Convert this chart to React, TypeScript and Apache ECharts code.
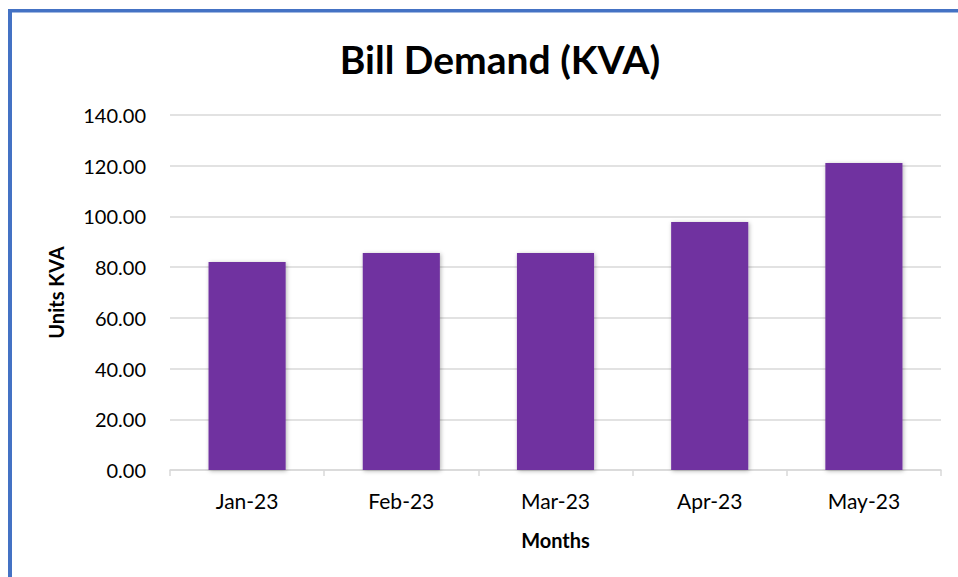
import React, { useEffect, useRef } from "react";
import * as echarts from "echarts";

const categories = ["Jan-23", "Feb-23", "Mar-23", "Apr-23", "May-23"];
const demandValues = [82.0, 85.6, 85.6, 97.8, 121.1];
const titleText = "Bill Demand (KVA)";
const yAxisName = "Units KVA";
const xAxisName = "Months";

export default function App() {
  const ref = useRef<HTMLDivElement>(null);
  useEffect(() => {
    if (!ref.current) return;
    const chart = echarts.init(ref.current, null, { renderer: "svg" });
    const font = "Lato, 'Open Sans', sans-serif";
    chart.setOption({
      animation: false,
      backgroundColor: "#ffffff",
      title: {
        text: titleText,
        left: 495,
        top: 34,
        textAlign: "center",
        textStyle: { fontFamily: font, fontSize: 39, fontWeight: "bold", color: "#000" },
      },
      graphic: [
        { type: "rect", shape: { x: 8, y: 9, width: 950, height: 3.5 }, style: { fill: "#4472C4" } },
        { type: "rect", shape: { x: 8, y: 9, width: 4, height: 568 }, style: { fill: "#4472C4" } },
      ],
      grid: { left: 170, right: 17, top: 115, bottom: 107, containLabel: false },
      xAxis: {
        type: "category",
        data: categories,
        name: xAxisName,
        nameLocation: "middle",
        nameGap: 60,
        nameTextStyle: { fontFamily: font, fontSize: 20, fontWeight: "bold", color: "#000" },
        axisLine: { lineStyle: { color: "#d9d9d9", width: 1.5 } },
        axisTick: { show: true, length: 6, alignWithLabel: false, lineStyle: { color: "#d9d9d9", width: 1.5 } },
        axisLabel: { fontFamily: font, fontSize: 21, color: "#000", margin: 20 },
      },
      yAxis: {
        type: "value",
        min: 0,
        max: 140,
        interval: 20,
        name: yAxisName,
        nameLocation: "middle",
        nameGap: 104,
        nameRotate: 90,
        nameTextStyle: { fontFamily: font, fontSize: 20, fontWeight: "bold", color: "#000" },
        axisLine: { show: false },
        axisTick: { show: false },
        axisLabel: {
          fontFamily: font,
          fontSize: 20,
          color: "#000",
          margin: 24,
          formatter: (v: number) => v.toFixed(2),
        },
        splitLine: { lineStyle: { color: "#d9d9d9", width: 1.5 } },
      },
      series: [
        {
          type: "bar",
          data: demandValues,
          barWidth: "50%",
          itemStyle: {
            color: "#7030A0",
            shadowBlur: 4,
            shadowColor: "rgba(0,0,0,0.3)",
            shadowOffsetX: 1,
            shadowOffsetY: 1,
          },
        },
      ],
    });
    return () => chart.dispose();
  }, []);
  return (
    <div
      ref={ref}
      style={{ position: "fixed", left: 0, top: 0, width: 958, height: 577 }}
    />
  );
}
